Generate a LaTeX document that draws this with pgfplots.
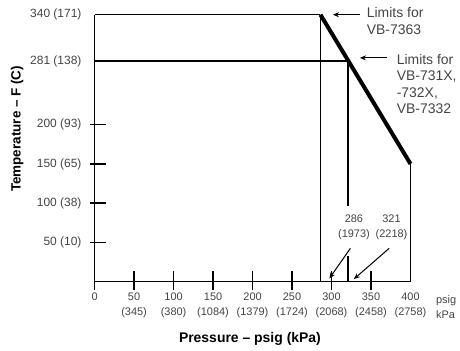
\documentclass[border=0pt]{standalone}
\usepackage{pgfplots}
\pgfplotsset{compat=1.18}
\usepackage{fontspec}
\setmainfont{Liberation Sans}
\usetikzlibrary{arrows.meta}
\definecolor{txt}{HTML}{444444}
\begin{document}
\begin{tikzpicture}
\useasboundingbox (-94.6bp,-69.3bp) rectangle (365.4bp,281.7bp);
\begin{axis}[
  at={(0,0)}, anchor=south west,
  scale only axis, width=315.9bp, height=267bp,
  xmin=0, xmax=400, ymin=0, ymax=340,
  axis x line=bottom, axis y line=left,
  axis line style={-, line width=1.4bp, draw=black},
  clip=false,
  unbounded coords=jump,
  tick align=center,
  major tick length=16bp,
  tick style={draw=none},
  xtick={0,50,100,150,200,250,300,350,400},
  xticklabels={0,{50\\(345)},{100\\(380)},{150\\(1084)},{200\\(1379)},{250\\(1724)},{300\\(2068)},{350\\(2458)},{400\\(2758)}},
  ytick={50,100,150,200,281,340},
  yticklabels={50 (10),100 (38),150 (65),200 (93),281 (138),340 (171)},
  xticklabel style={font=\fontsize{11}{15.5}\selectfont, text=txt, align=center, anchor=north, inner sep=0pt, yshift=-3bp},
  yticklabel style={font=\fontsize{12}{14}\selectfont, text=txt, anchor=east, inner sep=0pt, xshift=-5bp},
]
% tick marks
\addplot[black, line width=1.4bp] coordinates {
 (50,-10.5) (50,13) (nan,nan)
 (100,-10.5) (100,13) (nan,nan)
 (150,-10.5) (150,13) (nan,nan)
 (200,-10.5) (200,13) (nan,nan)
 (250,-10.5) (250,13) (nan,nan)
 (300,-10.5) (300,13) (nan,nan)
 (350,-10.5) (350,13)};
\addplot[black, line width=1.4bp] coordinates {
 (-5.8,50) (14.4,50) (nan,nan)
 (-5.8,100) (14.4,100) (nan,nan)
 (-5.8,150) (14.4,150) (nan,nan)
 (-5.8,200) (14.4,200)};
% frame lines
\addplot[black, line width=1.4bp] coordinates {(0,0) (0,-10)};
\addplot[black, line width=1.4bp] coordinates {(0,340) (286,340)};
\addplot[black, line width=1.4bp] coordinates {(286,0) (286,340)};
\addplot[black, line width=1.4bp] coordinates {(0,281) (321,281)};
\addplot[black, line width=1.4bp] coordinates {(321,281) (321,96)};
\addplot[black, line width=1.4bp] coordinates {(321,33) (321,0)};
\addplot[black, line width=1.4bp] coordinates {(400,0) (400,150)};
% limit line
\addplot[black, line width=4bp] coordinates {(286,340) (400,150)};
% arrows
\addplot[black, line width=1bp, -{Stealth[length=6bp,width=5bp]}] coordinates {(336,340) (301.8,340)};
\addplot[black, line width=1bp, -{Stealth[length=6bp,width=5bp]}] coordinates {(369.7,285) (336,285)};
\addplot[black, line width=1bp, -{Stealth[length=6bp,width=5bp]}] coordinates {(323.9,42.5) (297.3,4.2)};
\addplot[black, line width=1bp, -{Stealth[length=6bp,width=5bp]}] coordinates {(373,42.5) (328.4,3.4)};
% annotations
\node[anchor=north west, inner sep=0pt, align=left, text=txt, font=\fontsize{14}{16.5}\selectfont] at (axis cs:344.5,349) {Limits for\\VB-7363};
\node[anchor=north west, inner sep=0pt, align=left, text=txt, font=\fontsize{14}{16.5}\selectfont] at (axis cs:382.4,290) {Limits for\\VB-731X,\\-732X,\\VB-7332};
\node[anchor=north, inner sep=0pt, align=center, text=txt, font=\fontsize{11}{15}\selectfont] at (axis cs:328.4,85) {286\\(1973)};
\node[anchor=north, inner sep=0pt, align=center, text=txt, font=\fontsize{11}{15}\selectfont] at (axis cs:376,85) {321\\(2218)};
\node[anchor=north west, inner sep=0pt, align=left, text=txt, font=\fontsize{11}{15.5}\selectfont] at (axis cs:432.2,-17) {psig\\kPa};
\node[anchor=base, inner sep=0pt, font=\bfseries\fontsize{14}{16}\selectfont] at (axis cs:196.7,-77.5) {Pressure -- psig (kPa)};
\node[rotate=90, anchor=center, inner sep=0pt, font=\bfseries\fontsize{13.5}{16}\selectfont] at (axis cs:-98.2,194.5) {Temperature -- F (C)};
\end{axis}
\end{tikzpicture}
\end{document}
